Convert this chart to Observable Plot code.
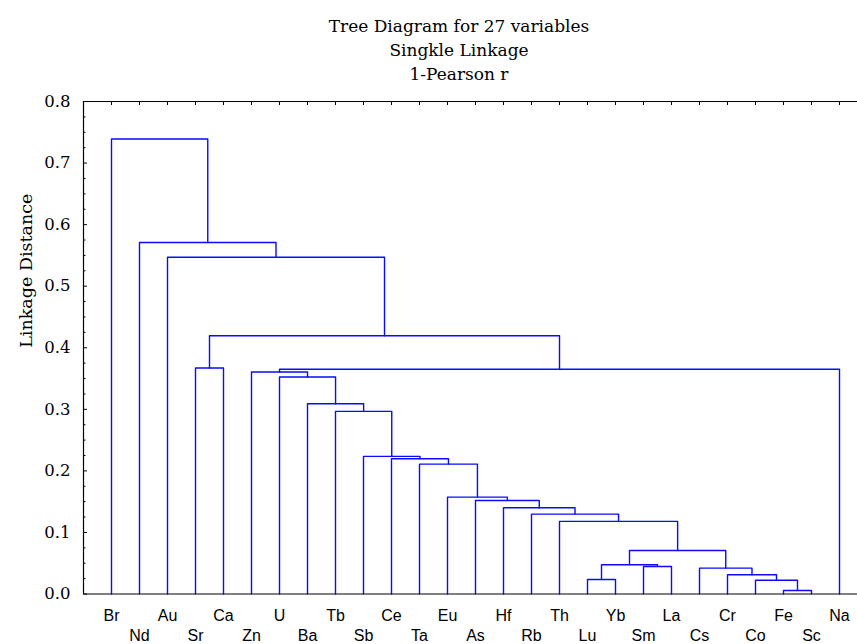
<!DOCTYPE html>
<html><head><meta charset="utf-8">
<script src="https://cdn.jsdelivr.net/npm/d3@7"></script>
<script src="https://cdn.jsdelivr.net/npm/@observablehq/plot@0.6"></script>
<style>
html,body{margin:0;padding:0;background:#fff;overflow:hidden}
#wrap{position:relative;width:857px;height:644px;overflow:hidden}
#title{position:absolute;left:59px;top:14px;width:800px;text-align:center;font-family:"DejaVu Serif";font-size:17px;line-height:24px;color:#000}
#chart{position:absolute;left:0;top:0}
</style></head><body>
<div id="wrap">
<div id="chart"></div>
<div id="title"><div>Tree Diagram for 27 variables</div><div>Singkle Linkage</div><div>1-Pearson r</div></div>
</div>
<script>
const leaves = ["Br","Nd","Au","Sr","Ca","Zn","U","Ba","Tb","Sb","Ce","Ta","Eu","As","Hf","Rb","Th","Lu","Yb","Sm","La","Cs","Cr","Co","Fe","Sc","Na"];
// merge k creates cluster "c"+(k+1)
const mergeLeft  = ["Fe","Co","Cr","Cs","Lu","Sm","c5","c7","Th","Rb","Hf","As","Eu","Ta","Ce","Sb","Tb","Ba","U","Zn","c20","Sr","c22","Au","Nd","Br"];
const mergeRight = ["Sc","c1","c2","c3","Yb","La","c6","c4","c8","c9","c10","c11","c12","c13","c14","c15","c16","c17","c18","c19","Na","Ca","c21","c23","c24","c25"];
const mergeHeight = [0.0057,0.0224,0.0312,0.042,0.0236,0.0447,0.0475,0.0707,0.1179,0.1298,0.140,0.152,0.1574,0.211,0.2198,0.2236,0.2967,0.309,0.3525,0.3607,0.365,0.367,0.4195,0.547,0.571,0.739];
const yTicks = [0,0.1,0.2,0.3,0.4,0.5,0.6,0.7,0.8];
const yMinor = d3.range(0,33).filter(i=>i%4!==0).map(i=>i*0.025);

const pos = {}, ht = {};
leaves.forEach((l,i)=>{pos[l]=i+1; ht[l]=0;});
const segs = [];
mergeLeft.forEach((l,k)=>{
  const r = mergeRight[k], id = "c"+(k+1), h = mergeHeight[k];
  pos[id] = (pos[l]+pos[r])/2; ht[id] = h;
  segs.push({id, x:pos[l], y:ht[l]},{id, x:pos[l], y:h},{id, x:pos[r], y:h},{id, x:pos[r], y:ht[r]});
});
const leafPos = leaves.map((l,i)=>i+1);
const row1 = leaves.filter((l,i)=>i%2===0);
const row2 = leaves.filter((l,i)=>i%2===1);

const chart = Plot.plot({
  width: 857, height: 644,
  marginLeft: 83, marginRight: 0, marginTop: 101, marginBottom: 50.5,
  style: {fontFamily: "DejaVu Serif", background: "#fff", color: "#000"},
  x: {domain: [0, 28], range: [83, 867], axis: null},
  y: {domain: [0, 0.8], axis: null},
  marks: [
    Plot.ruleY([0, 0.8], {stroke: "#000", strokeWidth: 1.2}),
    Plot.ruleX([0], {stroke: "#000", strokeWidth: 1.2}),
    Plot.axisX({anchor: "top", ticks: leafPos, tickSize: -3, tickFormat: () => "", label: null, stroke: "#000"}),
    Plot.axisY({anchor: "left", ticks: yTicks, tickSize: -4, tickFormat: () => "", label: null}),
    Plot.axisY({anchor: "left", ticks: yMinor, tickSize: -2.5, tickFormat: () => "", label: null}),
    Plot.axisY({anchor: "left", ticks: yTicks, tickSize: 0, tickPadding: 13, tickFormat: d3.format(".1f"), label: null, fontSize: 16.5, fontFamily: "DejaVu Serif", fill: "#000"}),
    Plot.line(segs, {x: "x", y: "y", z: "id", stroke: "#0a0aff", strokeWidth: 1.4}),
    Plot.text(row1, {x: d => leaves.indexOf(d)+1, frameAnchor: "bottom", dy: 26.5, lineAnchor: "bottom", fontFamily: "Liberation Sans", fontSize: 16, fill: "#000"}),
    Plot.text(row2, {x: d => leaves.indexOf(d)+1, frameAnchor: "bottom", dy: 46.5, lineAnchor: "bottom", fontFamily: "Liberation Sans", fontSize: 16, fill: "#000"}),
    Plot.text(["Linkage Distance"], {frameAnchor: "left", rotate: -90, dx: -57, fontFamily: "DejaVu Serif", fontSize: 17.5, fill: "#000"})
  ]
});
document.getElementById("chart").appendChild(chart);
</script>
</body></html>
